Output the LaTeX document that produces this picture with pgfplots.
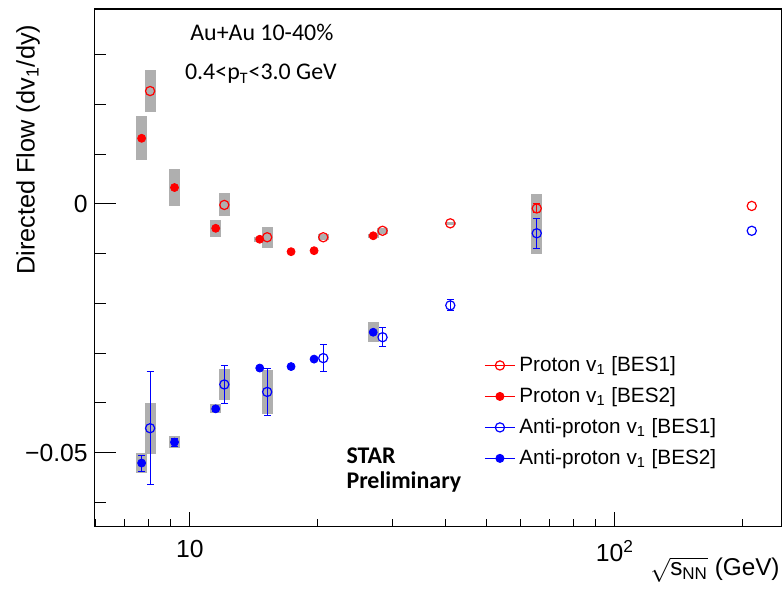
\documentclass[border=0pt]{standalone}
\usepackage{pgfplots}
\pgfplotsset{compat=1.18}
\usepackage{pgfplotstable}
\usepackage{fontspec}
\setmainfont{Liberation Sans}
\newfontfamily\calibri{Carlito}

\definecolor{sysgray}{RGB}{175,175,175}

% x y sys  (BES1 points drawn shifted by 5% in energy, as in the figure)
\pgfplotstableread{
x y sys
8.06 0.0227 0.0043
12.05 -0.0002 0.0023
15.2 -0.0067 0.0021
20.6 -0.0067 0.0006
28.4 -0.0054 0.0006
41.0 -0.0039 0.0003
65.5 -0.0009 0.0028
210 -0.0004 0
}\protonA
\pgfplotstableread{
x y sys
7.7 0.0132 0.0044
9.2 0.0033 0.0037
11.5 -0.0049 0.0017
14.6 -0.0071 0.0005
17.3 -0.0096 0
19.6 -0.0094 0
27 -0.0064 0.0004
}\protonB
\pgfplotstableread{
x y sys
8.06 -0.0451 0.0051
12.05 -0.0363 0.0032
15.2 -0.0378 0.0044
20.6 -0.0310 0
28.4 -0.0268 0
41.0 -0.0204 0
65.5 -0.0059 0.0042
210 -0.0054 0
}\pbarA
\pgfplotstableread{
x y sys
7.7 -0.0521 0.0021
9.2 -0.0479 0.0012
11.5 -0.0412 0.0009
14.6 -0.0330 0
17.3 -0.0327 0
19.6 -0.0312 0
27 -0.0258 0.0020
}\pbarB
% statistical errors, only where they are visible
\pgfplotstableread{
x y stat
65.5 -0.0009 0.0009
}\statProtonA
\pgfplotstableread{
x y stat
8.06 -0.0451 0.0114
12.05 -0.0363 0.0038
15.2 -0.0378 0.0048
20.6 -0.0310 0.0027
28.4 -0.0268 0.0019
41.0 -0.0204 0.0011
65.5 -0.0059 0.0030
}\statPbarA
\pgfplotstableread{
x y stat
7.7 -0.0521 0.0016
9.2 -0.0479 0.0008
11.5 -0.0412 0.0005
}\statPbarB

\pgfplotsset{
  rootleg/.style={legend image code/.code={%
    \draw[##1, sharp plot, mark repeat=2, mark phase=2, line width=0.5bp]
      plot coordinates {(0bp,0bp) (7.5bp,0bp) (15bp,0bp)};}},
  sysbox/.style={forget plot, draw=none, mark=none,
    error bars/.cd, y dir=both, y explicit, error mark=none,
    error bar style={draw=sysgray, line width=5.5bp}, /pgfplots/.cd},
  stat/.style={forget plot, draw=none, mark=none,
    error bars/.cd, y dir=both, y explicit,
    error bar style={draw=#1, line width=0.5bp},
    error mark options={rotate=90, mark size=1.75bp, line width=0.5bp, draw=#1}, /pgfplots/.cd},
}

\begin{document}
\begin{tikzpicture}
\begin{axis}[
  scale only axis, width=343.5bp, height=258.85bp,
  xmode=log, xmin=5.97, xmax=247, ymin=-0.0649, ymax=0.0392,
  axis line style={line width=0.65bp},
  tick align=inside, xtick pos=bottom, ytick pos=left,
  tick style={line width=0.5bp, black},
  xtick={10,100}, xticklabels={10,10\textsuperscript{2}},
  minor xtick={6,7,8,9,20,30,40,50,60,70,80,90,200},
  ytick={-0.05,0}, yticklabels={−0.05,0}, scaled y ticks=false,
  minor ytick={-0.06,-0.04,-0.03,-0.02,-0.01,0.01,0.02,0.03},
  x tick style={/pgfplots/major tick length=7.5bp, /pgfplots/minor tick length=3.8bp},
  y tick style={/pgfplots/major tick length=11bp, /pgfplots/minor tick length=5.8bp},
  tick label style={font=\fontsize{12.4}{14}\selectfont},
  x tick label style={yshift=-3.4bp},
  ylabel={Directed Flow (dv\textsubscript{1}/dy)},
  ylabel style={at={(axis description cs:-0.097,0.983)}, anchor=east,
    font=\fontsize{12.7}{15}\selectfont},
  xlabel={$\sqrt{\mbox{s\textsubscript{NN}}}$ (GeV)},
  xlabel style={at={(axis description cs:0.9975,-0.058)}, anchor=north east,
    inner sep=0pt, font=\fontsize{12.2}{15}\selectfont},
  legend style={draw=none, fill=none, at={(axis description cs:0.558,0.345)},
    anchor=north west, font=\fontsize{10.4}{12}\selectfont, row sep=2.5bp},
  legend cell align=left,
]
\addplot[sysbox] table[x=x, y=y, y error=sys] {\protonA};
\addplot[sysbox] table[x=x, y=y, y error=sys] {\protonB};
\addplot[sysbox] table[x=x, y=y, y error=sys] {\pbarA};
\addplot[sysbox] table[x=x, y=y, y error=sys] {\pbarB};

\addplot[stat=red] table[x=x, y=y, y error=stat] {\statProtonA};
\addplot[stat=blue] table[x=x, y=y, y error=stat] {\statPbarA};
\addplot[stat=blue] table[x=x, y=y, y error=stat] {\statPbarB};

\addplot[red, only marks, mark=o, mark size=2.3bp, mark options={line width=0.6bp}, rootleg]
  table[x=x, y=y] {\protonA};
\addlegendentry{Proton v\textsubscript{1} [BES1]}
\addplot[red, only marks, mark=*, mark size=2bp, rootleg]
  table[x=x, y=y] {\protonB};
\addlegendentry{Proton v\textsubscript{1} [BES2]}
\addplot[blue, only marks, mark=o, mark size=2.3bp, mark options={line width=0.6bp}, rootleg]
  table[x=x, y=y] {\pbarA};
\addlegendentry{Anti-proton v\textsubscript{1} [BES1]}
\addplot[blue, only marks, mark=*, mark size=2bp, rootleg]
  table[x=x, y=y] {\pbarB};
\addlegendentry{Anti-proton v\textsubscript{1} [BES2]}

\node[anchor=west, inner sep=0pt, font=\calibri\fontsize{12}{14}\selectfont] at (rel axis cs:0.1387,0.9556) {Au+Au 10-40\%};
\node[anchor=west, inner sep=0pt, font=\calibri\fontsize{12}{14}\selectfont] at (rel axis cs:0.131,0.8744) {0.4<p\textsubscript{T}<3.0 GeV};
\node[anchor=north west, align=left, inner sep=0pt, font=\calibri\bfseries\fontsize{12}{12.85}\selectfont]
  at (rel axis cs:0.366,0.154) {STAR\\Preliminary};
\end{axis}
\pgfresetboundingbox
\path[use as bounding box] (current axis.south west) ++(-47.35bp,-33.15bp) rectangle ++(391.5bp,296.5bp);
\end{tikzpicture}
\end{document}
